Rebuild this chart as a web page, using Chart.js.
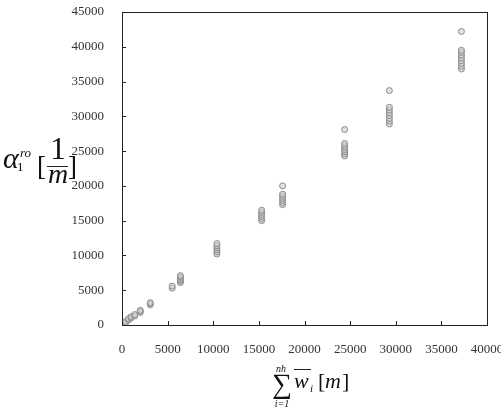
<!DOCTYPE html>
<html>
<head>
<meta charset="utf-8">
<script src="https://cdn.jsdelivr.net/npm/chart.js@4"></script>
<style>
  html, body { margin: 0; padding: 0; background: #fff; }
  #wrap { width: 501px; height: 410px; }
</style>
</head>
<body>
<div id="wrap"><canvas id="scatter"></canvas></div>
<script>
// Data
const groupX = [400, 700, 1000, 1400, 2000, 3100, 5500, 6400, 10400, 15300, 17600, 24400, 29300, 37200];
const groupY = [
    [300, 500],
    [700, 900],
    [1000, 1200],
    [1300, 1500],
    [1800, 2000, 2100],
    [2900, 3100, 3200],
    [5300, 5600],
    [6100, 6300, 6500, 6700, 6900, 7100],
    [10200, 10500, 10800, 11100, 11400, 11700],
    [15000, 15300, 15600, 15900, 16200, 16500],
    [17300, 17600, 17900, 18200, 18500, 18800, 20000],
    [24300, 24600, 24900, 25200, 25500, 25800, 26100, 28100],
    [28900, 29300, 29700, 30100, 30500, 30900, 31300, 33700],
    [36800, 37200, 37600, 38000, 38400, 38800, 39200, 39500, 42200]
];
const xTicks = [0, 5000, 10000, 15000, 20000, 25000, 30000, 35000, 40000];
const yTicks = [0, 5000, 10000, 15000, 20000, 25000, 30000, 35000, 40000, 45000];

// Build points
const points = [];
groupX.forEach((gx, i) => {
    groupY[i].forEach(gy => points.push({x: gx, y: gy}));
});

const SERIF = '"Liberation Serif", "Times New Roman", serif';

// Frame, inside ticks and math titles
const frame = {
    id: 'frame',
    afterDraw(chart) {
        const {ctx, chartArea: a, scales: {x, y}} = chart;
        ctx.save();
        ctx.strokeStyle = '#222';
        ctx.lineWidth = 1;
        ctx.strokeRect(a.left + 0.5, a.top + 0.5, a.width, a.height);
        ctx.beginPath();
        xTicks.forEach(v => {
            const px = Math.round(x.getPixelForValue(v)) + 0.5;
            ctx.moveTo(px, a.bottom);
            ctx.lineTo(px, a.bottom - 4);
        });
        yTicks.forEach(v => {
            const py = Math.round(y.getPixelForValue(v)) + 0.5;
            ctx.moveTo(a.left, py);
            ctx.lineTo(a.left + 4, py);
        });
        ctx.stroke();

        ctx.fillStyle = '#111';
        ctx.textBaseline = 'alphabetic';
        const txt = (s, px, py, size, italic, align) => {
            ctx.font = (italic ? 'italic ' : '') + size + 'px ' + SERIF;
            ctx.textAlign = align || 'left';
            ctx.fillText(s, px, py);
        };

        // y title: alpha_1^ro [1/m]
        txt('\u03b1', 3, 168, 30, true);
        txt('1', 17, 171, 13, false);
        txt('ro', 20, 157, 13, true);
        txt('[', 37, 175, 27, false);
        txt('1', 58, 159, 32, false, 'center');
        ctx.beginPath();
        ctx.moveTo(47, 166.5);
        ctx.lineTo(68, 166.5);
        ctx.stroke();
        txt('m', 58, 183, 28, true, 'center');
        txt(']', 68, 175, 27, false);

        // x title: sum_{i=1}^{nh} w_i [m]
        txt('\u2211', 282, 393, 28, false, 'center');
        txt('nh', 281, 372, 10, true, 'center');
        txt('i=1', 282, 407, 10, true, 'center');
        ctx.beginPath();
        ctx.moveTo(294, 369.5);
        ctx.lineTo(311, 369.5);
        ctx.stroke();
        txt('w', 294, 388, 22, true);
        txt('i', 310, 392, 11, true);
        txt('[', 318, 388, 22, false);
        txt('m', 325, 388, 22, true);
        txt(']', 342, 388, 22, false);
        ctx.restore();
    }
};

new Chart(document.querySelector('#scatter'), {
    type: 'scatter',
    data: {
        datasets: [{
            data: points,
            pointRadius: 3,
            pointHoverRadius: 3,
            borderWidth: 1,
            borderColor: '#8c8c8c',
            backgroundColor: 'rgba(205,205,205,0.6)'
        }]
    },
    options: {
        responsive: true,
        maintainAspectRatio: false,
        animation: false,
        layout: {padding: {left: 0, right: 14, top: 12, bottom: 0}},
        plugins: {legend: {display: false}, tooltip: {enabled: false}},
        scales: {
            x: {
                type: 'linear',
                min: 0,
                max: 40000,
                afterBuildTicks: s => { s.ticks = xTicks.map(v => ({value: v})); },
                afterFit: s => { s.height = 85; s.paddingLeft = 0; s.paddingRight = 0; },
                grid: {display: false},
                border: {display: false},
                ticks: {
                    padding: 9,
                    color: '#333',
                    font: {family: SERIF, size: 13},
                    maxRotation: 0,
                    callback: v => String(v)
                }
            },
            y: {
                type: 'linear',
                min: 0,
                max: 45000,
                afterBuildTicks: s => { s.ticks = yTicks.map(v => ({value: v})); },
                afterFit: s => { s.width = 122; s.paddingTop = 0; s.paddingBottom = 0; },
                grid: {display: false},
                border: {display: false},
                ticks: {
                    padding: 10,
                    color: '#333',
                    font: {family: SERIF, size: 13},
                    callback: v => String(v)
                }
            }
        }
    },
    plugins: [frame]
});
</script>
</body>
</html>
